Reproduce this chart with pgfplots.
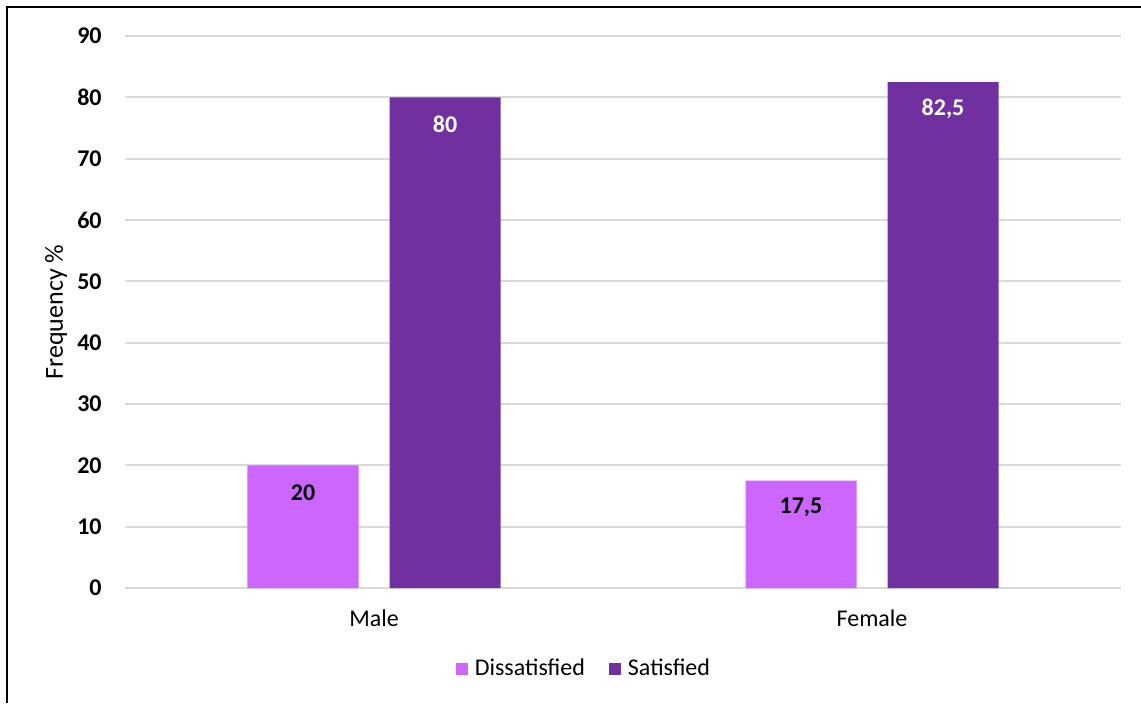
\documentclass[border=0pt]{standalone}
\usepackage{fontspec}
\setmainfont{Carlito}
\usepackage{pgfplots}
\pgfplotsset{compat=1.18}
\definecolor{dis}{HTML}{CC66FF}
\definecolor{sat}{HTML}{7030A0}
\definecolor{gridc}{HTML}{D9D9D9}
\begin{document}
\begin{tikzpicture}
\begin{axis}[
  at={(0pt,0pt)}, anchor=south west,
  scale only axis, width=498pt, height=276pt,
  xmin=-0.5, xmax=1.5, ymin=0, ymax=90,
  ytick={0,10,...,90},
  xtick={0,1}, xticklabels={Male,Female},
  axis line style={draw=none},
  major tick length=0pt,
  ymajorgrids, grid style={gridc, line width=0.9pt},
  ybar, bar width=55.5pt,
  /pgf/number format/assume math mode=true,
  /pgf/number format/use comma,
  yticklabel style={font=\fontsize{12}{14}\selectfont\bfseries, anchor=east, inner sep=0pt, xshift=-11.5pt},
  xticklabel style={font=\fontsize{12}{14}\selectfont, anchor=north, inner sep=0pt, yshift=-10.5pt},
  legend style={at={(0.4618,-0.1467)}, anchor=center, draw=none, fill=none,
    legend columns=2, font=\fontsize{12}{14}\selectfont,
    /tikz/every even column/.append style={column sep=10pt}},
  legend image code/.code={\fill (0pt,-3pt) rectangle (6pt,3pt); \path (0pt,0pt) -- (7.5pt,0pt);},
  nodes near coords,
  every node near coord/.append style={anchor=center, yshift=-13.5pt, font=\fontsize{12}{14}\selectfont\bfseries},
]
\addplot[fill=dis, draw=none, bar shift=-35.5pt, every node near coord/.append style={text=black}] coordinates {(0,20) (1,17.5)};
\addplot[fill=sat, draw=none, bar shift=35.5pt, every node near coord/.append style={text=white}] coordinates {(0,80) (1,82.5)};
\legend{Dissatisfied, Satisfied}
\end{axis}
\node[rotate=90, font=\fontsize{13}{15}\selectfont] at (-34.5pt,138pt) {Frequency \%};
\draw[line width=1pt] (-59pt,-57.5pt) -- (-59pt,290.5pt) -- (508pt,290.5pt);
\pgfresetboundingbox
\path[use as bounding box] (-62.5pt,-57.5pt) rectangle (508pt,294pt);
\end{tikzpicture}
\end{document}
